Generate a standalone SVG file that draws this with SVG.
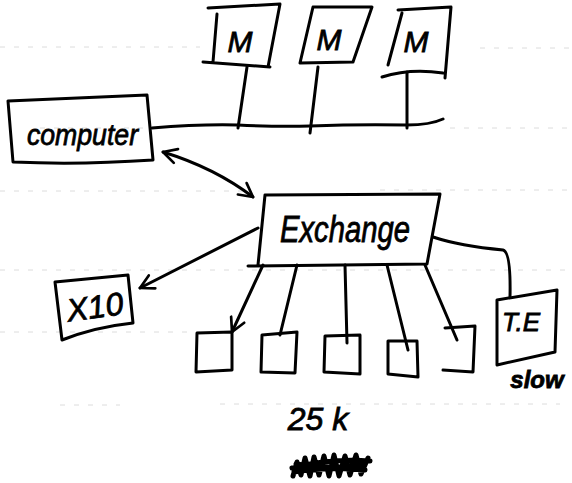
<svg xmlns="http://www.w3.org/2000/svg" width="572" height="483" viewBox="0 0 572 483">
<style>
.p{fill:none;stroke:#000;stroke-width:3;stroke-linecap:round;stroke-linejoin:round}
.t{font-family:"Liberation Sans","DejaVu Sans",sans-serif;font-style:italic;fill:#000;stroke:#000;stroke-width:0.8}
.r{fill:none;stroke:#dcdcdc;stroke-width:1;stroke-dasharray:5 9}
</style>
<defs>
<marker id="ah" viewBox="0 0 20 20" refX="18" refY="10" markerWidth="18" markerHeight="18" markerUnits="userSpaceOnUse" orient="auto-start-reverse">
<path d="M3,2 L18,10 L3,18" fill="none" stroke="#000" stroke-width="3" stroke-linecap="round" stroke-linejoin="round"/>
</marker>
</defs>
<rect width="572" height="483" fill="#fff"/>
<g id="ruled">
<path class="r" d="M0,47 H200 M480,48 H572 M40,128 H150 M450,128 H572 M0,191 H250 M380,190 H572 M0,270 H572 M0,332 H200 M60,405 H120 M220,404 H560"/>
</g>
<g id="connectors">
<path class="p" d="M152,128 Q200,124 238,125 Q280,127 310,126 Q360,124 407,125 Q430,125 443,119"/>
<path class="p" d="M247,67 L238,128"/>
<path class="p" d="M318,67 L310,133"/>
<path class="p" d="M407,72 L407,128"/>
<path class="p" d="M163,152 Q215,168 253,197" marker-start="url(#ah)" marker-end="url(#ah)"/>
<path class="p" d="M258,228 L140,288" marker-end="url(#ah)"/>
<path class="p" d="M263,265 L232,332" marker-end="url(#ah)"/>
<path class="p" d="M297,265 L280,335"/>
<path class="p" d="M345,265 L347,343"/>
<path class="p" d="M387,265 L408,350"/>
<path class="p" d="M425,265 L457,340"/>
<path class="p" d="M433,237 Q460,246 503,250 Q511,252 510,297"/>
</g>
<g id="m1">
<path class="p" d="M208,8 L280,4 L268,67 M203,62 L270,67 M217,14 L213,62"/>
<text class="t" x="240" y="52" font-size="30" text-anchor="middle">M</text>
</g>
<g id="m2">
<path class="p" d="M313,7 L372,7 L353,62 M300,63 L353,62 M313,7 L300,63"/>
<text class="t" x="329" y="50" font-size="30" text-anchor="middle">M</text>
</g>
<g id="m3">
<path class="p" d="M398,10 L451,7 L445,78 M382,77 Q410,68 443,73 M402,13 L388,65"/>
<text class="t" x="416" y="52" font-size="30" text-anchor="middle">M</text>
</g>
<g id="computer">
<path class="p" d="M8,101 Q80,98 147,95 L153,160 Q80,165 13,162 Z"/>
<text class="t" x="27" y="145" font-size="30" textLength="111" lengthAdjust="spacingAndGlyphs">computer</text>
</g>
<g id="exchange">
<path class="p" d="M265,195 L440,194 L427,264 L248,266 M265,195 L258,265"/>
<text class="t" x="280" y="242" font-size="36" textLength="130" lengthAdjust="spacingAndGlyphs">Exchange</text>
</g>
<g id="x10">
<path class="p" d="M55,282 L128,275 L133,323 Q95,327 62,340 Z"/>
<text class="t" x="95" y="318" font-size="32" text-anchor="middle" transform="rotate(-8 95 308)">X10</text>
</g>
<g id="te">
<path class="p" d="M497,300 L557,290 L555,352 L497,365 Z"/>
<text class="t" x="521" y="331" font-size="26" text-anchor="middle">T.E</text>
<text class="t" x="537" y="388" font-size="24" font-weight="bold" text-anchor="middle">slow</text>
</g>
<g id="t1"><path class="p" d="M197,333 L232,332 L232,370 L196,372 Z"/></g>
<g id="t2"><path class="p" d="M262,335 L297,332 L295,373 L261,372 Z"/></g>
<g id="t3"><path class="p" d="M325,336 L360,335 L360,374 L324,372 Z"/></g>
<g id="t4"><path class="p" d="M388,341 L417,341 L418,377 L388,374 Z"/></g>
<g id="t5"><path class="p" d="M445,328 L475,326 L473,372 L443,370"/></g>
<g id="label25k">
<text class="t" x="318" y="430" font-size="32" text-anchor="middle">25 k</text>
</g>
<g id="scribble">
<path d="M293,476 L297,462 L301,475 L305,458 L310,476 L314,457 L319,475 L324,456 L329,476 L334,455 L339,476 L345,456 L350,475 L356,455 L361,474 L368,458 M292,468 Q330,458 370,461 M294,472 Q330,466 365,470 M296,464 Q330,470 362,464" fill="none" stroke="#000" stroke-width="5" stroke-linecap="round" stroke-linejoin="round"/>
</g>
</svg>
